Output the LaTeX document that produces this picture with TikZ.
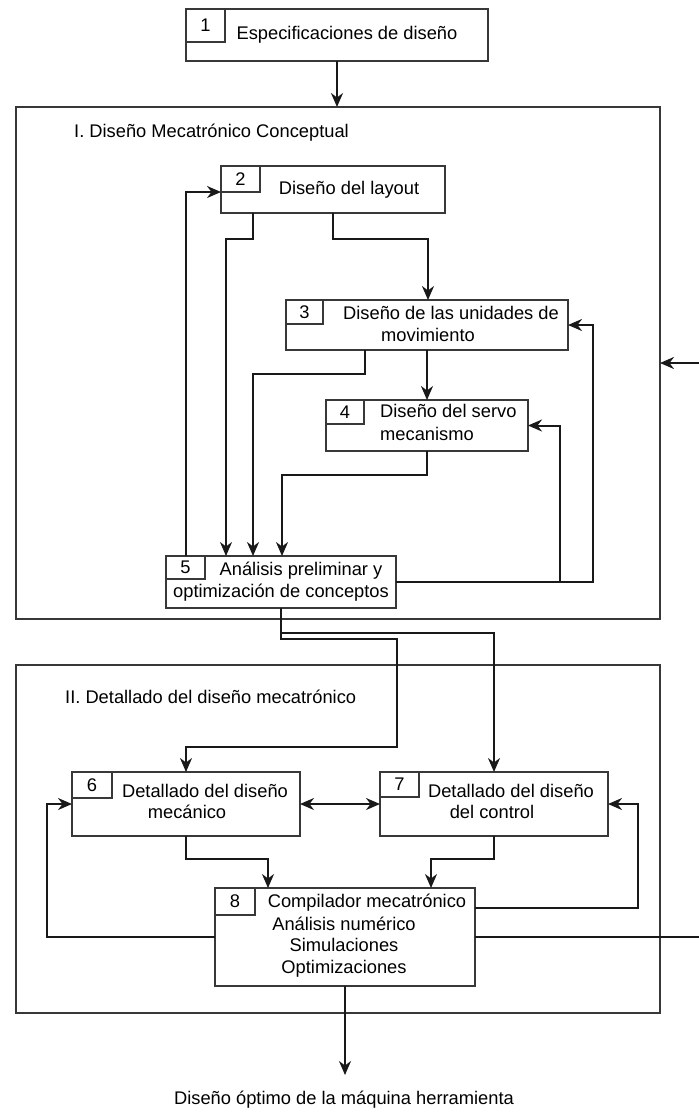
\documentclass[tikz,border=0pt]{standalone}
\usepackage{fontspec}
\setmainfont{Liberation Sans}
\usetikzlibrary{arrows.meta,calc}
\begin{document}
\begin{tikzpicture}[x=1pt,y=-1pt,
  box/.style={draw=black!78, line width=1.2pt, inner sep=0pt, outer sep=0pt, anchor=north west,
    font=\fontsize{18.3}{22}\selectfont},
  conn/.style={line width=2pt, draw=black!90},
  tip/.tip={Stealth[length=14pt,width=12pt,inset=4.5pt]},
  arr/.style={conn, -tip},
  arrb/.style={conn, tip-tip},
  txt/.style={inner sep=0pt, text height=13.5pt, text depth=4pt, font=\fontsize{18.3}{22}\selectfont}
]
\useasboundingbox (0,0) rectangle (699,1112);

% group frames
\node[box, minimum width=644pt, minimum height=512pt] (BI) at (16,107) {};
\node[box, minimum width=644pt, minimum height=348pt] (BII) at (16,665) {};
\node[txt, anchor=west] (tI) at (74,133) {I. Diseño Mecatrónico Conceptual};
\node[txt, anchor=west] (tII) at (65,699) {II. Detallado del diseño mecatrónico};

% boxes
\node[box, minimum width=302pt, minimum height=52pt] (b1) at (186,9) {};
\node[box, minimum width=39pt, minimum height=33pt] (n1) at (186,9) {1};
\node[txt] (t1) at (347,35) {Especificaciones de diseño};

\node[box, minimum width=224pt, minimum height=47pt] (b2) at (221,166) {};
\node[box, minimum width=39pt, minimum height=26pt] (n2) at (221,166) {2};
\node[txt] (t2) at (349,190) {Diseño del layout};

\node[box, minimum width=282pt, minimum height=50pt] (b3) at (286,300) {};
\node[box, minimum width=37pt, minimum height=24pt] (n3) at (286,300) {3};
\node[txt] (t3a) at (451,315) {Diseño de las unidades de};
\node[txt] (t3b) at (428,337) {movimiento};

\node[box, minimum width=202pt, minimum height=51pt] (b4) at (326,400) {};
\node[box, minimum width=38pt, minimum height=24pt] (n4) at (326,400) {4};
\node[txt, anchor=west] (t4a) at (380,413) {Diseño del servo};
\node[txt, anchor=west] (t4b) at (380,436) {mecanismo};

\node[box, minimum width=230pt, minimum height=52pt] (b5) at (166,556) {};
\node[box, minimum width=39pt, minimum height=23pt] (n5) at (166,556) {5};
\node[txt] (t5a) at (301,571) {Análisis preliminar y};
\node[txt] (t5b) at (281,593) {optimización de conceptos};

\node[box, minimum width=228pt, minimum height=64pt] (b6) at (72,772) {};
\node[box, minimum width=40pt, minimum height=26pt] (n6) at (72,772) {6};
\node[txt] (t6a) at (205,793) {Detallado del diseño};
\node[txt] (t6b) at (187,814) {mecánico};

\node[box, minimum width=228pt, minimum height=64pt] (b7) at (380,772) {};
\node[box, minimum width=39pt, minimum height=25pt] (n7) at (380,772) {7};
\node[txt] (t7a) at (511,793) {Detallado del diseño};
\node[txt] (t7b) at (492,814) {del control};

\node[box, minimum width=260pt, minimum height=98pt] (b8) at (215,888) {};
\node[box, minimum width=40pt, minimum height=27pt] (n8) at (215,888) {8};
\node[txt] (t8a) at (367,903) {Compilador mecatrónico};
\node[txt] (t8b) at (344,926) {Análisis numérico};
\node[txt] (t8c) at (344,947) {Simulaciones};
\node[txt] (t8d) at (344,969) {Optimizaciones};

\node[txt] (out) at (344,1100) {Diseño óptimo de la máquina herramienta};

% coordinates
\coordinate (f2) at (186,192);
\coordinate (k1) at (253,239);
\coordinate (k2) at (226,239);
\coordinate (k3) at (333,239);
\coordinate (k4) at (428,239);
\coordinate (m1) at (365,374);
\coordinate (m2) at (253,374);
\coordinate (q1) at (427,475);
\coordinate (q2) at (282,475);
\coordinate (r3) at (593,582);
\coordinate (r4) at (560,582);
\coordinate (s1) at (281,633);
\coordinate (s2) at (281,639);
\coordinate (s3) at (397,639);
\coordinate (s4) at (397,747);
\coordinate (u1) at (186,859);
\coordinate (u2) at (268,859);
\coordinate (v1) at (494,859);
\coordinate (v2) at (431,859);
\coordinate (w1) at (638,908);
\coordinate (w2) at (47,937);
\coordinate (edgeout) at (699,937);
\coordinate (edgein) at (699,363);
\coordinate (endp) at (345,1075);

% connectors
\draw[arr] (b1.south) -- (b1.south |- BI.north);
\draw[arr] (b5.north -| f2) |- (n2.south west);
\draw[arr] (b2.south -| k1) -- (k1) -- (k2) -- (k2 |- b5.north);
\draw[arr] (b2.south -| k3) -- (k3) -- (k4) -- (k4 |- b3.north);
\draw[arr] (b3.south -| m1) -- (m1) -- (m2) -- (m2 |- b5.north);
\draw[arr] (b3.south) -- (b4.north);
\draw[arr] (b4.south) -- (q1) -- (q2) -- (q2 |- b5.north);
\draw[arr] (b5.east) -- (r3) |- (b3.east);
\draw[arr] (r4) |- (b4.east);
\draw[arr] (b5.south) -- (s1) -| (b7.north);
\draw[arr] (s1) -- (s2) -- (s3) -- (s4) -| (b6.north);
\draw[arrb] (b6.east) -- (b7.west);
\draw[arr] (b6.south) -- (u1) -- (u2) -- (u2 |- b8.north);
\draw[arr] (b7.south -| v1) -- (v1) -- (v2) -- (v2 |- b8.north);
\draw[arr] (b8.east |- w1) -- (w1) |- (b7.east);
\draw[arr] (b8.west) -- (w2) |- (b6.west);
\draw[conn] (b8.east) -- (edgeout);
\draw[arr] (edgein) -- (edgein -| BI.east);
\draw[arr] (b8.south) -- (endp);
\end{tikzpicture}
\end{document}
